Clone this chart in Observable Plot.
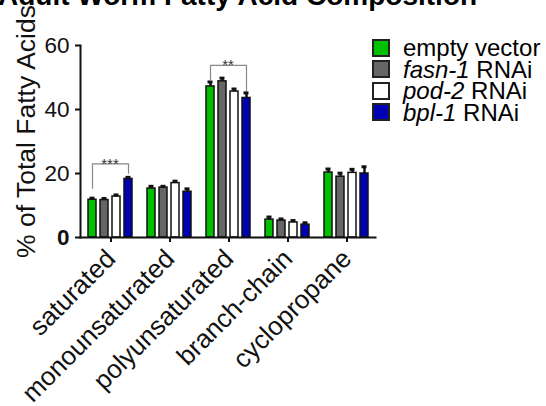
<!DOCTYPE html>
<html><head><meta charset="utf-8">
<script src="https://cdn.jsdelivr.net/npm/d3@7"></script>
<script src="https://cdn.jsdelivr.net/npm/@observablehq/plot@0.6"></script>
<style>
body{margin:0;background:#fff;font-family:"Liberation Sans",Arial,sans-serif;}
#wrap{position:relative;width:546px;height:406px;overflow:hidden;}
#chart{position:absolute;left:0;top:0;}
#title{position:absolute;left:-2px;width:472px;text-align:center;top:-18px;line-height:28px;font-weight:bold;font-size:28px;white-space:nowrap;}
#legend{position:absolute;left:372px;top:37px;}
.row{display:flex;align-items:center;height:21.5px;font-size:24px;line-height:21.5px;white-space:nowrap;}
.sw{width:14px;height:14px;border:2px solid #222;margin-right:13px;flex:none;}
</style></head>
<body><div id="wrap"><div id="chart"></div><div id="title">Adult Worm Fatty Acid Composition</div><div id="legend"></div></div>
<script>
const categories = ["saturated", "monounsaturated", "polyunsaturated", "branch-chain", "cyclopropane"];
const series = ["empty vector", "fasn-1 RNAi", "pod-2 RNAi", "bpl-1 RNAi"];
const seriesGene = ["", "fasn-1", "pod-2", "bpl-1"];
const seriesSuffix = ["empty vector", " RNAi", " RNAi", " RNAi"];
const colors = ["#00c000", "#666666", "#ffffff", "#0000b4"];

const emptyVector = [11.8, 15.3, 47.2, 5.6, 20.3];
const fasn1 = [11.7, 15.6, 48.8, 5.3, 19.0];
const pod2 = [12.8, 17.0, 45.6, 4.7, 20.2];
const bpl1 = [18.3, 14.3, 43.6, 4.0, 20.0];

const errEmptyVector = [0.5, 0.7, 1.4, 0.8, 1.1];
const errFasn1 = [0.5, 0.4, 1.0, 0.5, 1.1];
const errPod2 = [0.5, 0.6, 0.8, 0.6, 1.1];
const errBpl1 = [0.5, 0.9, 1.6, 0.6, 2.1];

const bracketCats = ["saturated", "polyunsaturated"];
const bracketLeft = [15.4, 49.2];
const bracketTop = [23.0, 53.8];
const bracketRight = [20.1, 45.8];
const bracketLabels = ["***", "**"];

const values = [emptyVector, fasn1, pod2, bpl1];
const errors = [errEmptyVector, errFasn1, errPod2, errBpl1];
const data = [];
categories.forEach((c, i) => series.forEach((s, j) => data.push({cat: c, ser: s, v: values[j][i], e: errors[j][i]})));

const bracketData = [];
bracketCats.forEach((c, i) => {
  bracketData.push({id: i, cat: c, ser: series[0], y: bracketLeft[i]});
  bracketData.push({id: i, cat: c, ser: series[0], y: bracketTop[i]});
  bracketData.push({id: i, cat: c, ser: series[3], y: bracketTop[i]});
  bracketData.push({id: i, cat: c, ser: series[3], y: bracketRight[i]});
});

const chart = Plot.plot({
  width: 546, height: 406,
  marginLeft: 78, marginRight: 169, marginTop: 45, marginBottom: 169,
  style: {fontFamily: "'Liberation Sans', Arial, sans-serif", background: "white", color: "#111"},
  fx: {domain: categories, paddingInner: 0, paddingOuter: 0.02, label: null},
  x: {domain: series, paddingInner: 0.35, paddingOuter: 0.587, axis: null},
  y: {domain: [0, 60], axis: null},
  color: {domain: series, range: colors},
  marks: [
    Plot.barY(data, {fx: "cat", x: "ser", y: "v", fill: "ser", stroke: "#111", strokeWidth: 1.5}),
    Plot.ruleX(data, {fx: "cat", x: "ser", y1: "v", y2: d => d.v + d.e, stroke: "#111", strokeWidth: 2.5}),
    Plot.tickY(data, {fx: "cat", x: "ser", y: d => d.v + d.e, stroke: "#111", strokeWidth: 3, inset: 1.5}),
    Plot.line(bracketData, {fx: "cat", x: "ser", y: "y", z: "id", stroke: "#888", strokeWidth: 1.2}),
    Plot.text(bracketCats, {fx: d => d, y: (d, i) => bracketTop[i], text: (d, i) => bracketLabels[i], lineAnchor: "bottom", dy: 5, fontSize: 15, fill: "#333"}),
    Plot.frame({anchor: "left", facet: "super", strokeWidth: 2, stroke: "#111"}),
    Plot.frame({anchor: "bottom", facet: "super", strokeWidth: 2, stroke: "#111"}),
    Plot.axisY([20, 40, 60], {tickSize: 5, tickPadding: 6, fontSize: 22.5, strokeWidth: 2, label: null}),
    Plot.axisY([0], {tickSize: 5, tickPadding: 6, fontSize: 22.5, fontWeight: "bold", strokeWidth: 2, label: null}),
    Plot.axisFx({anchor: "bottom", tickRotate: -45, fontSize: 26, tickSize: 5, tickPadding: 12, dx: 1, strokeWidth: 2, label: null}),
    Plot.text(["% of Total Fatty Acids"], {frameAnchor: "left", textAnchor: "middle", rotate: -90, dx: -54, dy: -10, fontSize: 26.5, facet: "super"})
  ]
});
document.getElementById("chart").appendChild(chart);

const legend = document.getElementById("legend");
series.forEach((s, j) => {
  const row = document.createElement("div");
  row.className = "row";
  const sw = document.createElement("div");
  sw.className = "sw";
  sw.style.background = colors[j];
  row.appendChild(sw);
  const lab = document.createElement("span");
  if (seriesGene[j]) {
    const it = document.createElement("i");
    it.textContent = seriesGene[j];
    lab.appendChild(it);
  }
  lab.appendChild(document.createTextNode(seriesSuffix[j]));
  row.appendChild(lab);
  legend.appendChild(row);
});
</script>
</body></html>
